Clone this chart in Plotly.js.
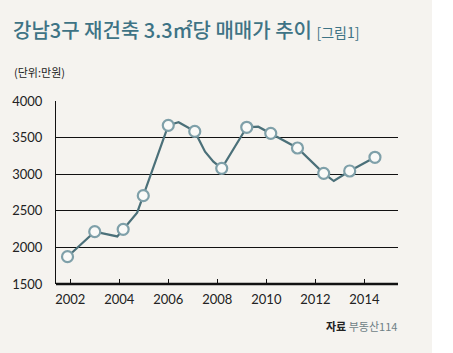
<!DOCTYPE html>
<html>
<head>
<meta charset="utf-8">
<script src="https://cdn.plot.ly/plotly-3.0.1.min.js"></script>
<style>html,body{margin:0;padding:0;background:#fff;}#chart{width:453px;height:353px;}</style>
</head>
<body>
<div id="chart"></div>
<script>
// Line path (all vertices) and marked points
const lineYears  = [2001.89, 2003.0, 2003.92, 2004.16, 2004.73, 2004.98, 2006.0, 2006.42, 2007.08, 2007.5, 2007.84, 2008.18, 2009.2, 2009.67, 2010.18, 2011.27, 2012.34, 2012.75, 2013.4, 2014.43];
const lineValues = [1873, 2215, 2150, 2247, 2474, 2707, 3668, 3709, 3585, 3308, 3171, 3080, 3641, 3649, 3558, 3358, 3012, 2907, 3044, 3231];
const markYears  = [2001.89, 2003.0, 2004.16, 2004.98, 2006.0, 2007.08, 2008.18, 2009.2, 2010.18, 2011.27, 2012.34, 2013.4, 2014.43];
const markValues = [1873, 2215, 2247, 2707, 3668, 3585, 3080, 3641, 3558, 3358, 3012, 3044, 3231];
const xTicks = [2002, 2004, 2006, 2008, 2010, 2012, 2014];
const yTicks = [1500, 2000, 2500, 3000, 3500, 4000];

const titleText = '강남3구 재건축 3.3㎡당 매매가 추이';
const figText = '[그림1]';
const unitText = '(단위:만원)';
const srcLabel = '자료';
const srcText = '부동산114';

const lineColor = '#4b7079';
const markerLine = '#7fa0a9';
const bg = '#f5f3ef';
const korFont = '"Noto Sans CJK KR", "Noto Sans", sans-serif';
const numFont = 'Lato, "Noto Sans", sans-serif';

const traces = [
  {x: lineYears, y: lineValues, type: 'scatter', mode: 'lines',
   line: {color: lineColor, width: 2.2}, hoverinfo: 'skip', cliponaxis: false},
  {x: markYears, y: markValues, type: 'scatter', mode: 'markers',
   marker: {size: 11, color: '#fafaf8', line: {color: markerLine, width: 2.2}}, cliponaxis: false}
];

const W = 453, H = 353, L = 56, R = 55, T = 101, B = 69;
const pw = W - L - R, ph = H - T - B;
const px = v => (v - L) / pw;
const py = v => (H - B - v) / ph;

const layout = {
  width: W, height: H,
  margin: {l: L, r: R, t: T, b: B, pad: 0},
  paper_bgcolor: bg, plot_bgcolor: 'rgba(0,0,0,0)',
  showlegend: false,
  font: {family: numFont, color: '#222', size: 13},
  xaxis: {range: [2001.42, 2015.37], tickvals: xTicks, ticktext: xTicks.map(String),
    showgrid: false, zeroline: false, showline: false,
    ticks: 'inside', ticklen: 5, tickwidth: 1, tickcolor: '#111',
    tickfont: {family: numFont, size: 13, color: '#222'}, ticklabelstandoff: 6},
  yaxis: {range: [1500, 4000], tickvals: yTicks, ticktext: yTicks.map(String),
    showgrid: true, gridcolor: '#111', gridwidth: 1, zeroline: false,
    showline: true, linecolor: '#111', linewidth: 1, ticks: '',
    tickfont: {family: numFont, size: 13, color: '#222'}, ticklabelstandoff: 10},
  shapes: [
    {type: 'rect', xref: 'paper', yref: 'paper', x0: px(432), x1: px(460), y0: py(-5), y1: py(360),
     fillcolor: '#ffffff', line: {width: 0}, layer: 'below'},
    {type: 'line', xref: 'paper', yref: 'paper', x0: 0, x1: 1, y0: 0, y1: 0,
     line: {color: '#111', width: 2.5}}
  ],
  annotations: [
    {text: titleText + ' <span style="font-size:14px;font-weight:normal">' + figText + '</span>',
     xref: 'paper', yref: 'paper', x: px(11), y: py(29), xanchor: 'left', yanchor: 'middle',
     showarrow: false, font: {family: korFont, size: 20, color: '#3e7385', weight: 500}},
    {text: unitText, xref: 'paper', yref: 'paper', x: px(12), y: py(72), xanchor: 'left', yanchor: 'middle',
     showarrow: false, font: {family: korFont, size: 11, color: '#222'}},
    {text: '<b>' + srcLabel + '</b> <span style="color:#6f7f86">' + srcText + '</span>',
     xref: 'paper', yref: 'paper', x: px(399), y: py(326), xanchor: 'right', yanchor: 'middle',
     showarrow: false, font: {family: korFont, size: 11, color: '#222'}}
  ]
};

Plotly.newPlot('chart', traces, layout, {displayModeBar: false, staticPlot: true});
</script>
</body>
</html>
